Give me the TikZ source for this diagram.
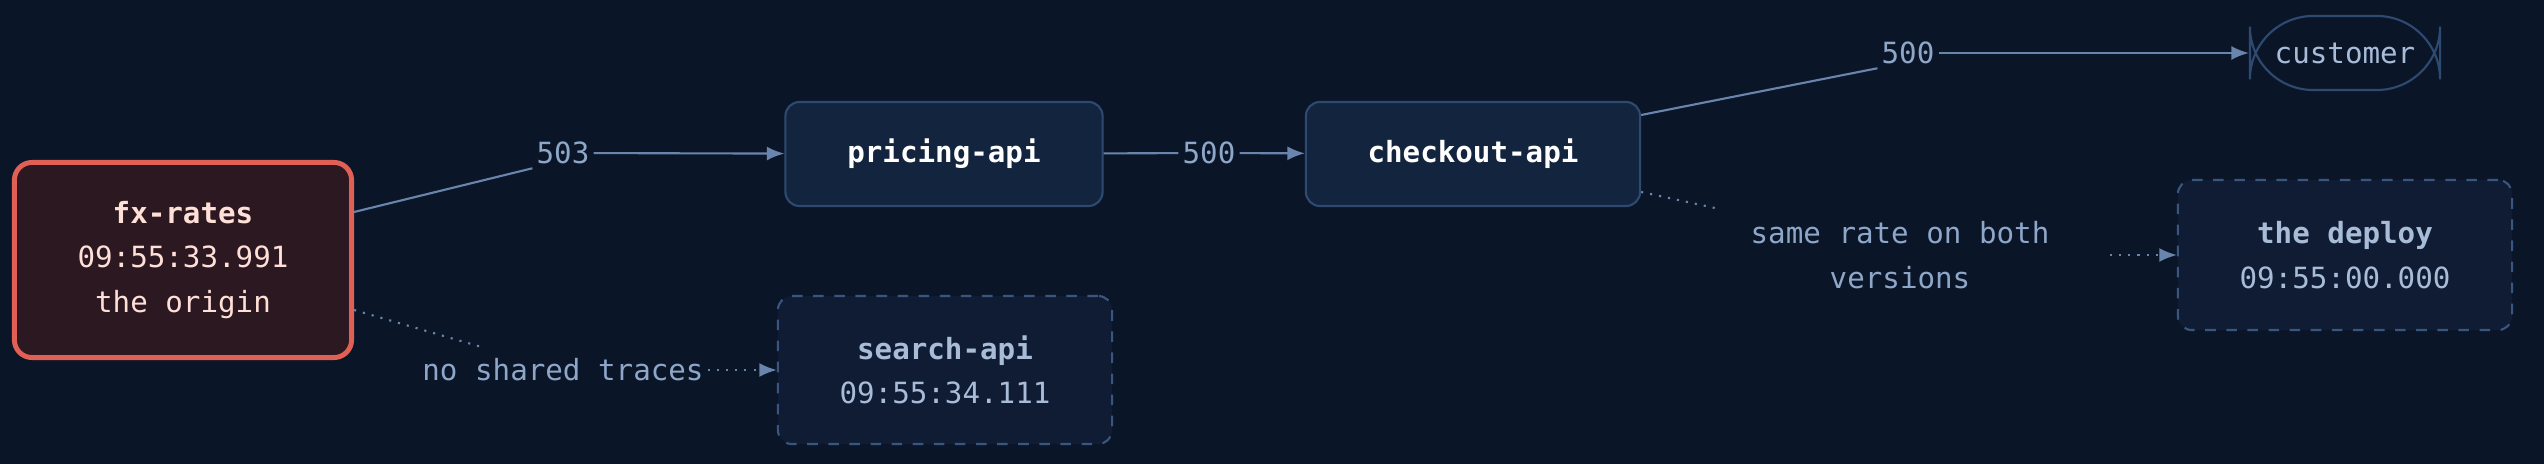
\documentclass[tikz,border=0pt]{standalone}
\usepackage{fontspec}
\setmonofont{DejaVu Sans Mono}
\usetikzlibrary{arrows.meta,positioning}
\definecolor{bgcol}{HTML}{0B1528}
\definecolor{boxfill}{HTML}{13243F}
\definecolor{boxline}{HTML}{2E4A70}
\definecolor{ghostfill}{HTML}{0F1C33}
\definecolor{ghostline}{HTML}{3A5580}
\definecolor{edgecol}{HTML}{6A85AD}
\definecolor{labcol}{HTML}{8EA6C8}
\definecolor{ghosttext}{HTML}{A8BCD8}
\definecolor{origfill}{HTML}{2C1820}
\definecolor{origline}{HTML}{E06055}
\definecolor{origtext}{HTML}{FFE0D8}

\tikzset{
  every node/.style={font=\ttfamily\fontsize{8.3pt}{12.6pt}\selectfont},
  svc/.style={draw=boxline, fill=boxfill, rounded corners=4pt, line width=0.6pt,
    text=white, align=center},
  ghost/.style={draw=ghostline, fill=ghostfill, rounded corners=4pt, dashed, line width=0.6pt,
    text=ghosttext, align=center},
  origin/.style={draw=origline, fill=origfill, rounded corners=5pt, line width=1.4pt,
    text=origtext, minimum width=3.37cm, minimum height=1.95cm, align=center},
  lab/.style={text=labcol, inner sep=1pt},
  flow/.style={draw=edgecol, line width=0.6pt},
  hint/.style={draw=edgecol, line width=0.6pt, dotted},
  tip/.style={-{Latex[length=5pt,width=4pt]}}
}

\begin{document}
\begin{tikzpicture}[x=0.01cm,y=-0.01cm]
    \fill[bgcol] (0,0) rectangle (2544,464);
    \useasboundingbox (0,0) rectangle (2544,464);

    % services
    \node[origin] (fx) at (183,260) {\textbf{fx-rates}\\09:55:33.991\\the origin};
    \node[svc, minimum width=3.17cm, minimum height=1.04cm] (pricing) at (944,154) {\textbf{pricing-api}};
    \node[svc, minimum width=3.34cm, minimum height=1.04cm] (checkout) at (1473,154) {\textbf{checkout-api}};
    \node[ghost, minimum width=3.34cm, minimum height=1.48cm] (search) at (945,370) {\textbf{search-api}\\09:55:34.111};
    \node[ghost, minimum width=3.34cm, minimum height=1.5cm] (deploy) at (2345,255) {\textbf{the deploy}\\09:55:00.000};
    \node[draw=boxline, fill=bgcol, rounded corners=18pt, line width=0.6pt, text=ghosttext,
      minimum width=1.9cm, minimum height=0.74cm] (customer) at (2345,53) {customer};

    % edge labels
    \node[lab] (e503) at (563,153) {503};
    \node[lab] (e500a) at (1209,153) {500};
    \node[lab] (e500b) at (1908,53) {500};
    \node[lab] (noshare) at (563,370) {no shared traces};
    \node[lab, align=center] (samerate) at (1900,255) {same rate on both\\versions};
    \coordinate (s1) at (485,348);
    \coordinate (s2) at (1715,208);
    \coordinate (s3) at (2110,255);

    % calls
    \draw[flow] (fx.east |- 0,212) -- (e503.south west);
    \draw[flow, tip] (e503) -- (pricing);
    \draw[flow] (pricing) -- (e500a);
    \draw[flow, tip] (e500a) -- (checkout);
    \draw[flow] (checkout.east |- 0,115) -- (e500b.south west);
    \draw[flow, tip] (e500b) -- (customer);

    % hints
    \draw[hint] (fx.east |- 0,310) -- (s1);
    \draw[hint, tip] (noshare) -- (search);
    \draw[hint] (checkout.east |- 0,192) -- (s2);
    \draw[hint, tip] (s3) -- (deploy);

\end{tikzpicture}
\end{document}
